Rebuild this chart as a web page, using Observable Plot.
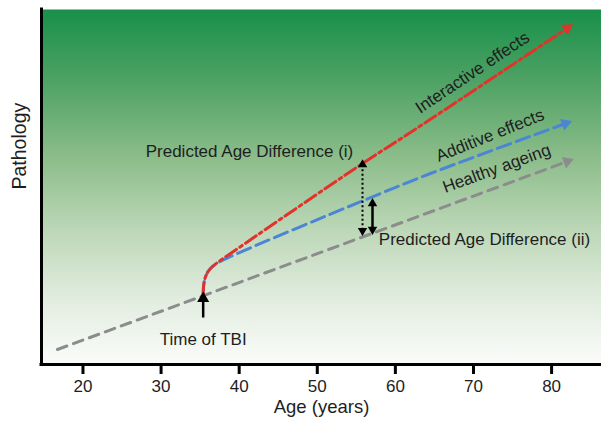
<!DOCTYPE html>
<html><head><meta charset="utf-8">
<script src="https://cdn.jsdelivr.net/npm/d3@7"></script>
<script src="https://cdn.jsdelivr.net/npm/@observablehq/plot@0.6"></script>
<style>body{margin:0;background:#fff} svg{display:block}</style>
</head><body><div id="chart"></div>
<script>
// ---- data ----
const xTicks = [20, 30, 40, 50, 60, 70, 80];
const healthyAge  = [16.73, 82.0];
const healthyPath = [4.23, 57.18];
const interAge  = [35.39, 35.45, 35.62, 35.94, 36.45, 37.22, 38.89, 55.79, 62.32, 82.0];
const interPath = [19.44, 22.25, 24.23, 25.92, 27.32, 28.73, 31.27, 56.62, 65.92, 94.73];
const addAge  = [35.39, 35.45, 35.62, 35.94, 36.45, 37.35, 38.89, 55.92, 64.49, 81.78];
const addPath = [19.44, 22.25, 24.23, 25.92, 27.32, 28.73, 30.42, 46.20, 53.80, 67.89];
const diffAge    = [55.79, 57.07];
const diffTop    = [56.3, 45.35];
const diffBottom = [37.7, 38.03];
const tbiAge = 35.39, tbiLow = 13.24, tbiHigh = 18.6;
const labelText = ["Interactive effects", "Additive effects", "Healthy ageing"];
const labelAge  = [69.87, 72.11, 72.96];
const labelPath = [82.25, 64.5, 55.2];
const labelRot  = [-33.7, -22, -20];
const noteText = ["Predicted Age Difference (i)", "Predicted Age Difference (ii)", "Time of TBI"];
const noteAge  = [41.32, 71.41, 35.39];
const notePath = [60.0, 35.2, 7.04];

// ---- layout ----
const W = 601, H = 423;
const M = {top: 9, right: 0, bottom: 59, left: 41};
const xDomain = [14.69, 86.39], yDomain = [0, 100];
const kx = (W - M.left - M.right) / (xDomain[1] - xDomain[0]);
const ky = (H - M.top - M.bottom) / (yDomain[1] - yDomain[0]);

const rows = (a, p) => a.map((v, i) => ({age: v, path: p[i]}));
const healthy = rows(healthyAge, healthyPath);
const inter = rows(interAge, interPath);
const add = rows(addAge, addPath);

const dirOf = (arr) => {
  const a = arr[arr.length - 2], b = arr[arr.length - 1];
  return Math.atan2((b.age - a.age) * kx, (b.path - a.path) * ky) * 180 / Math.PI;
};
const heads = [
  {...healthy[healthy.length - 1], rot: dirOf(healthy), color: "#8c8c8c"},
  {...add[add.length - 1], rot: dirOf(add), color: "#4a86d4"},
  {...inter[inter.length - 1], rot: dirOf(inter), color: "#e0332b"}
];
const diffRows = diffAge.map((a, i) => ({age: a, top: diffTop[i], bottom: diffBottom[i]}));
const smallHeads = [];
diffRows.forEach(d => { smallHeads.push({age: d.age, path: d.top, rot: 0}); smallHeads.push({age: d.age, path: d.bottom, rot: 180}); });
const labels = labelText.map((t, i) => ({t, age: labelAge[i], path: labelPath[i], rot: labelRot[i]}));
const notes = noteText.map((t, i) => ({t, age: noteAge[i], path: notePath[i]}));

const ink = "#1e1e1e";
const chart = Plot.plot({
  width: W, height: H,
  marginTop: M.top, marginRight: M.right, marginBottom: M.bottom, marginLeft: M.left,
  x: {domain: xDomain, axis: null},
  y: {domain: yDomain, axis: null},
  style: {fontFamily: "'Liberation Sans', Arial, sans-serif", background: "white", color: ink},
  marks: [
    Plot.frame({fill: "url(#bg)", stroke: "none"}),
    Plot.line(healthy, {x: "age", y: "path", stroke: "#8c8c8c", strokeWidth: 3, strokeDasharray: "10,7"}),
    Plot.line(add, {x: "age", y: "path", stroke: "#4a86d4", strokeWidth: 3, strokeDasharray: "14,6", curve: "catmull-rom"}),
    Plot.line(inter, {x: "age", y: "path", stroke: "#e0332b", strokeWidth: 3, strokeDasharray: "13,4,3,4", curve: "catmull-rom"}),
    Plot.dot(heads, {x: "age", y: "path", symbol: "triangle", r: 4.5, fill: d => d.color, stroke: "none", rotate: "rot"}),
    Plot.link(diffRows.slice(0, 1), {x1: "age", x2: "age", y1: "top", y2: "bottom", stroke: "black", strokeWidth: 2, strokeDasharray: "2,2.5"}),
    Plot.link(diffRows.slice(1), {x1: "age", x2: "age", y1: "top", y2: "bottom", stroke: "black", strokeWidth: 2.5}),
    Plot.dot(smallHeads, {x: "age", y: "path", symbol: "triangle", r: 3.5, fill: "black", stroke: "none", rotate: "rot"}),
    Plot.link([{age: tbiAge, lo: tbiLow, hi: tbiHigh}], {x1: "age", x2: "age", y1: "lo", y2: "hi", stroke: "black", strokeWidth: 2.5}),
    Plot.dot([{age: tbiAge, path: tbiHigh}], {x: "age", y: "path", symbol: "triangle", r: 4.5, fill: "black", stroke: "none"}),
    Plot.text(labels, {x: "age", y: "path", text: "t", rotate: "rot", fontSize: 17, fill: ink}),
    Plot.text(notes, {x: "age", y: "path", text: "t", fontSize: 17, fill: ink}),
    Plot.ruleY([yDomain[0]], {stroke: "black", strokeWidth: 3, strokeLinecap: "square"}),
    Plot.ruleX([xDomain[0]], {stroke: "black", strokeWidth: 3, strokeLinecap: "square"}),
    Plot.axisX(xTicks, {tickSize: 10, tickPadding: 5, strokeWidth: 3, fontSize: 17, label: null, color: ink, stroke: "black"}),
    Plot.text(["Age (years)"], {frameAnchor: "bottom", dy: 48.5, fontSize: 18.5, fill: ink}),
    Plot.text(["Pathology"], {frameAnchor: "left", dx: -21.5, dy: 2.5, rotate: -90, fontSize: 19.5, fill: ink})
  ]
});

const defs = d3.select(chart).insert("defs", ":first-child");
const g = defs.append("linearGradient").attr("id", "bg").attr("x1", 0).attr("y1", 0).attr("x2", 0).attr("y2", 1);
[[0, "#18904a"], [0.2, "#4ea264"], [0.42, "#8dbd8b"], [0.62, "#bcd7b7"], [0.82, "#e2ede0"], [1, "#fbfcfa"]]
  .forEach(([o, c]) => g.append("stop").attr("offset", o).attr("stop-color", c));

document.getElementById("chart").appendChild(chart);
</script>
</body></html>
